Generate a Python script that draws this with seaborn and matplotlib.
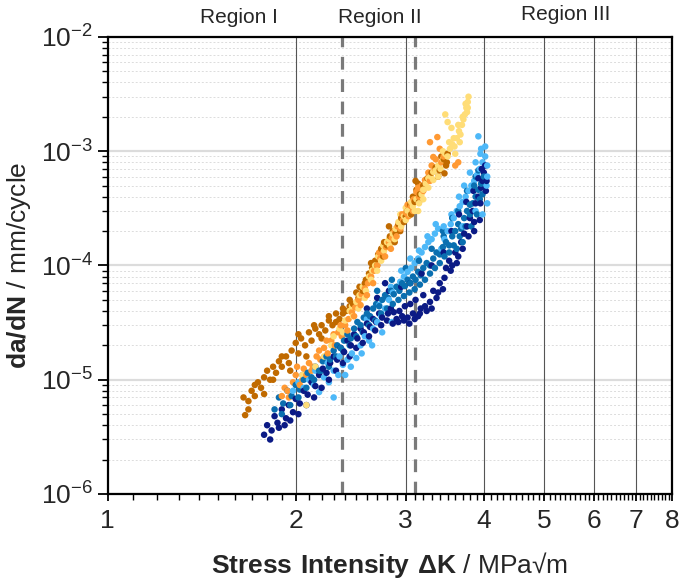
import numpy as np
import pandas as pd
import matplotlib
matplotlib.use("Agg")
import matplotlib.pyplot as plt
import matplotlib.ticker as mticker
import matplotlib.transforms as mtransforms
import seaborn as sns

# Data - dK in MPa*sqrt(m), da/dN in mm/cycle
gold_dk = [1.65, 1.66, 1.68, 1.70, 1.72, 1.74, 1.76, 1.78, 1.80, 1.82, 1.84, 1.86, 1.88, 1.90,
           1.93, 1.95, 1.97, 2.00, 2.02, 2.04, 2.07, 2.10, 2.12, 2.15, 2.18, 2.20, 2.23, 2.26,
           2.29, 2.32, 2.35, 2.38, 2.41, 2.44, 2.47, 2.50, 2.53, 2.56, 2.59, 2.62, 2.65, 2.68,
           2.71, 2.74, 2.77, 2.80, 2.83, 2.86, 2.89, 2.92, 2.95, 2.98, 3.02, 3.05, 3.08, 3.10,
           3.12, 3.14, 3.16, 3.20, 3.25, 3.30, 3.35, 3.40, 3.45, 3.48, 3.50,
           1.68, 1.72, 1.78, 1.84, 1.90, 1.96, 2.02, 2.08, 2.14, 2.20, 2.26, 2.32, 2.38, 2.44,
           2.52, 2.58, 2.64, 2.70, 2.76, 2.82, 2.88, 2.94, 3.00, 3.06, 3.11, 3.15, 3.38, 3.42,
           3.46, 3.49]
gold_rate = [7.0e-6, 4.9e-6, 6.5e-6, 8.0e-6, 7.2e-6, 9.5e-6, 8.5e-6, 1.05e-5, 1.2e-5, 1.0e-5,
             1.3e-5, 1.15e-5, 1.45e-5, 1.3e-5, 1.6e-5, 1.4e-5, 1.8e-5, 2.1e-5, 1.7e-5, 2.3e-5,
             2.0e-5, 2.6e-5, 2.2e-5, 2.8e-5, 2.5e-5, 3.0e-5, 2.7e-5, 3.3e-5, 3.0e-5, 3.8e-5,
             3.4e-5, 4.2e-5, 4.0e-5, 5.0e-5, 4.6e-5, 5.8e-5, 6.5e-5, 6.0e-5, 7.5e-5, 8.5e-5,
             9.5e-5, 1.1e-4, 1.25e-4, 1.4e-4, 1.6e-4, 1.5e-4, 1.8e-4, 2.0e-4, 1.9e-4, 2.3e-4,
             2.6e-4, 2.4e-4, 3.0e-4, 3.4e-4, 4.0e-4, 3.6e-4, 4.6e-4, 5.2e-4, 4.2e-4, 5.0e-4,
             5.8e-4, 6.5e-4, 7.2e-4, 6.8e-4, 8.5e-4, 7.5e-4, 9.5e-4,
             5.5e-6, 9.0e-6, 7.5e-6, 1.0e-5, 1.6e-5, 1.2e-5, 2.5e-5, 1.6e-5, 3.0e-5, 2.3e-5,
             3.6e-5, 3.2e-5, 3.8e-5, 4.4e-5, 5.2e-5, 7.0e-5, 1.05e-4, 1.0e-4, 1.2e-4, 2.2e-4,
             1.6e-4, 2.0e-4, 2.7e-4, 2.8e-4, 5.5e-4, 3.6e-4, 6.0e-4, 9.0e-4, 6.4e-4, 8.0e-4]

orange_dk = [1.90, 1.92, 1.95, 1.98, 2.00, 2.03, 2.06, 2.08, 2.10, 2.13, 2.16, 2.19, 2.22, 2.25,
             2.28, 2.31, 2.34, 2.37, 2.40, 2.43, 2.46, 2.49, 2.52, 2.55, 2.58, 2.61, 2.64, 2.67,
             2.70, 2.73, 2.76, 2.79, 2.82, 2.85, 2.88, 2.91, 2.94, 2.97, 3.00, 3.03, 3.06, 3.09,
             3.12, 3.15, 3.18, 3.22, 3.26, 3.30, 3.35, 3.40, 3.45, 3.28, 3.37, 3.60, 3.64, 3.32,
             1.94, 2.01, 2.05, 2.12, 2.18, 2.24, 2.30, 2.36, 2.42, 2.48, 2.54, 2.60, 2.66, 2.72,
             2.78, 2.84, 2.90, 2.96, 3.02, 3.08, 3.14, 3.20, 3.28, 3.34, 3.42]
orange_rate = [7.2e-6, 8.5e-6, 7.0e-6, 9.5e-6, 1.1e-5, 9.0e-6, 1.25e-5, 1.1e-5, 1.4e-5, 1.3e-5,
               1.6e-5, 1.5e-5, 1.9e-5, 1.7e-5, 2.2e-5, 2.0e-5, 2.6e-5, 2.4e-5, 3.0e-5, 3.4e-5,
               3.9e-5, 4.3e-5, 5.0e-5, 5.6e-5, 6.3e-5, 7.0e-5, 8.0e-5, 9.0e-5, 1.0e-4, 1.15e-4,
               1.3e-4, 1.45e-4, 1.6e-4, 1.75e-4, 2.0e-4, 2.2e-4, 2.1e-4, 2.5e-4, 2.9e-4, 2.7e-4,
               3.3e-4, 3.8e-4, 4.4e-4, 4.0e-4, 5.0e-4, 5.6e-4, 6.5e-4, 7.5e-4, 8.5e-4, 1.05e-3,
               9.0e-4, 1.2e-3, 1.33e-3, 7.5e-4, 8.0e-4, 8.9e-4,
               8.0e-6, 1.3e-5, 1.0e-5, 1.2e-5, 1.8e-5, 2.2e-5, 2.5e-5, 3.0e-5, 2.7e-5, 3.6e-5,
               4.5e-5, 5.5e-5, 7.0e-5, 1.3e-4, 1.2e-4, 1.4e-4, 1.8e-4, 2.8e-4, 3.4e-4, 3.0e-4,
               4.8e-4, 4.5e-4, 5.5e-4, 7.0e-4, 8.0e-4]

yellow_dk = [2.05, 2.08, 2.15, 2.22, 2.28, 2.35, 2.40, 2.44, 2.47, 2.50, 2.53, 2.56, 2.59, 2.62,
             2.65, 2.68, 2.71, 2.74, 2.77, 2.80, 2.83, 2.86, 2.89, 2.92, 2.95, 2.98, 3.00, 3.02,
             3.05, 3.08, 3.10, 3.12, 3.15, 3.18, 3.20, 3.23, 3.26, 3.29, 3.32, 3.35, 3.38, 3.41,
             3.44, 3.47, 3.50, 3.53, 3.56, 3.59, 3.62, 3.65, 3.67, 3.69, 3.71, 3.73, 3.75, 3.76,
             3.77, 3.78, 3.47, 3.50, 3.55,
             2.30, 2.38, 2.46, 2.52, 2.58, 2.64, 2.70, 2.76, 2.82, 2.88, 2.94, 3.00, 3.06, 3.14,
             3.20, 3.26, 3.32, 3.38, 3.44, 3.52, 3.58, 3.64, 3.70, 3.74, 3.77, 3.60, 3.66]
yellow_rate = [1.1e-5, 6.0e-6, 1.3e-5, 1.6e-5, 2.0e-5, 2.8e-5, 3.3e-5, 4.0e-5, 3.6e-5, 4.8e-5,
               5.5e-5, 6.5e-5, 6.0e-5, 8.0e-5, 9.0e-5, 1.0e-4, 1.2e-4, 1.1e-4, 1.35e-4, 1.6e-4,
               1.5e-4, 1.9e-4, 2.1e-4, 2.4e-4, 2.2e-4, 2.7e-4, 2.5e-4, 3.0e-4, 2.8e-4, 3.3e-4,
               3.0e-4, 3.8e-4, 3.5e-4, 4.2e-4, 4.6e-4, 5.2e-4, 4.8e-4, 6.0e-4, 5.6e-4, 6.8e-4,
               7.5e-4, 7.0e-4, 8.5e-4, 9.5e-4, 9.0e-4, 1.05e-3, 1.15e-3, 1.1e-3, 1.3e-3, 1.5e-3,
               1.4e-3, 1.7e-3, 1.9e-3, 2.1e-3, 2.4e-3, 2.2e-3, 2.7e-3, 3.0e-3, 2.1e-3, 1.8e-3,
               1.6e-3,
               2.4e-5, 2.6e-5, 4.4e-5, 4.2e-5, 5.2e-5, 7.5e-5, 9.0e-5, 1.5e-4, 1.7e-4, 1.7e-4,
               2.8e-4, 3.2e-4, 3.6e-4, 3.0e-4, 3.8e-4, 5.8e-4, 6.6e-4, 6.0e-4, 1.0e-3, 1.2e-3,
               1.3e-3, 1.7e-3, 2.0e-3, 2.6e-3, 2.4e-3, 9.5e-4, 1.2e-3]

navy_dk = [1.78, 1.80, 1.83, 1.85, 1.87, 1.90, 1.93, 1.95, 1.98, 2.00, 2.03, 2.06, 2.09, 2.12,
           2.15, 2.18, 2.21, 2.24, 2.27, 2.30, 2.33, 2.36, 2.39, 2.42, 2.45, 2.48, 2.51, 2.54,
           2.57, 2.60, 2.63, 2.66, 2.69, 2.72, 2.75, 2.78, 2.81, 2.84, 2.87, 2.90, 2.93, 2.96,
           2.99, 3.02, 3.05, 3.08, 3.11, 3.14, 3.17, 3.20, 3.24, 3.28, 3.32, 3.36, 3.40, 3.44,
           3.48, 3.52, 3.56, 3.60, 3.64, 3.68, 3.72, 3.76, 3.80, 3.84, 3.88, 3.92, 3.96, 3.98,
           4.00, 4.02, 3.94, 3.86,
           1.82, 1.88, 1.92, 1.96, 2.02, 2.08, 2.14, 2.20, 2.26, 2.32, 2.38, 2.44, 2.50, 2.56,
           2.62, 2.68, 2.74, 2.80, 2.86, 2.92, 2.98, 3.04, 3.10, 3.16, 3.22, 3.30, 3.38, 3.46,
           3.54, 3.62, 3.70, 3.78, 3.86, 3.95, 4.03, 4.04,
           2.60, 2.70, 2.82, 2.95, 3.05, 3.18, 3.30, 3.45, 3.55, 3.65, 3.75, 3.85, 3.92, 3.97]
navy_rate = [3.3e-6, 4.0e-6, 3.6e-6, 4.8e-6, 4.2e-6, 5.5e-6, 4.6e-6, 6.0e-6, 5.2e-6, 6.8e-6,
             6.2e-6, 8.0e-6, 7.4e-6, 9.5e-6, 8.8e-6, 1.1e-5, 1.25e-5, 1.15e-5, 1.4e-5, 1.6e-5,
             1.5e-5, 1.9e-5, 1.75e-5, 2.2e-5, 2.0e-5, 2.5e-5, 2.3e-5, 2.8e-5, 2.6e-5, 3.1e-5,
             2.9e-5, 3.4e-5, 3.2e-5, 3.8e-5, 3.5e-5, 7.0e-5, 3.8e-5, 4.2e-5, 3.9e-5, 3.4e-5,
             4.0e-5, 3.6e-5, 4.4e-5, 3.5e-5, 4.6e-5, 3.8e-5, 5.0e-5, 3.6e-5, 4.2e-5, 5.5e-5,
             4.0e-5, 4.8e-5, 6.0e-5, 5.2e-5, 7.0e-5, 6.2e-5, 9.5e-5, 1.1e-4, 1.0e-4, 1.3e-4,
             1.2e-4, 1.6e-4, 1.9e-4, 2.2e-4, 2.6e-4, 3.0e-4, 3.5e-4, 4.0e-4, 4.8e-4, 5.5e-4,
             6.5e-4, 7.5e-4, 2.5e-4, 2.0e-4,
             3.0e-6, 3.8e-6, 4.0e-6, 4.4e-6, 5.0e-6, 6.0e-6, 7.0e-6, 8.5e-6, 1.0e-5, 1.2e-5,
             1.4e-5, 1.6e-5, 1.9e-5, 2.1e-5, 2.4e-5, 2.7e-5, 3.0e-5, 3.3e-5, 3.1e-5, 3.2e-5,
             3.3e-5, 3.1e-5, 3.4e-5, 3.8e-5, 4.4e-5, 4.2e-5, 5.8e-5, 7.8e-5, 9.0e-5, 1.05e-4,
             1.4e-4, 1.8e-4, 2.4e-4, 3.5e-4, 4.5e-4, 5.5e-4,
             4.2e-5, 5.2e-5, 6.0e-5, 6.5e-5, 7.0e-5, 8.5e-5, 1.0e-4, 1.3e-4, 2.0e-4, 2.8e-4,
             3.6e-4, 4.5e-4, 5.8e-4, 7.0e-4]

mid_dk = [1.85, 1.88, 1.91, 1.94, 1.97, 2.00, 2.03, 2.06, 2.09, 2.12, 2.15, 2.18, 2.21, 2.24,
          2.27, 2.30, 2.33, 2.36, 2.39, 2.42, 2.45, 2.48, 2.51, 2.54, 2.57, 2.60, 2.63, 2.66,
          2.69, 2.72, 2.75, 2.78, 2.81, 2.84, 2.87, 2.90, 2.93, 2.96, 2.99, 3.02, 3.05, 3.08,
          3.11, 3.14, 3.17, 3.20, 3.24, 3.28, 3.32, 3.36, 3.40, 3.44, 3.48, 3.52, 3.56, 3.60,
          3.64, 3.68, 3.72, 3.76, 3.80, 3.84, 3.88, 3.92, 3.96, 4.00, 3.90, 3.82, 3.70, 3.62,
          3.44, 3.56, 3.64, 3.76, 3.88, 3.92,
          1.90, 1.96, 2.02, 2.08, 2.14, 2.20, 2.26, 2.32, 2.38, 2.44, 2.50, 2.56, 2.62, 2.68,
          2.74, 2.80, 2.86, 2.92, 2.98, 3.04, 3.10, 3.16, 3.22, 3.28, 3.34, 3.40, 3.46, 3.52,
          3.58, 3.66, 3.74, 3.80, 3.86, 3.94, 3.98, 2.70, 2.85, 3.00, 3.15, 3.30, 3.45]
mid_rate = [5.5e-6, 7.0e-6, 6.2e-6, 8.0e-6, 7.2e-6, 9.0e-6, 8.2e-6, 1.0e-5, 1.15e-5, 1.05e-5,
            1.3e-5, 1.2e-5, 1.45e-5, 1.6e-5, 1.5e-5, 1.8e-5, 2.0e-5, 1.9e-5, 2.2e-5, 2.5e-5,
            2.3e-5, 2.8e-5, 3.2e-5, 3.0e-5, 3.5e-5, 3.8e-5, 3.6e-5, 4.2e-5, 4.6e-5, 4.4e-5,
            5.0e-5, 5.5e-5, 5.2e-5, 6.0e-5, 5.6e-5, 6.5e-5, 6.0e-5, 7.0e-5, 6.6e-5, 7.5e-5,
            7.0e-5, 8.0e-5, 7.5e-5, 8.8e-5, 8.2e-5, 9.5e-5, 1.05e-4, 1.0e-4, 1.15e-4, 1.3e-4,
            1.25e-4, 1.45e-4, 1.6e-4, 1.5e-4, 1.8e-4, 2.0e-4, 2.3e-4, 2.1e-4, 2.6e-4, 3.0e-4,
            2.8e-4, 3.5e-4, 4.0e-4, 4.6e-4, 5.2e-4, 6.0e-4, 2.8e-4, 2.2e-4, 1.6e-4, 1.4e-4,
            2.0e-4, 2.6e-4, 3.0e-4, 4.5e-4, 6.0e-4, 6.8e-4,
            5.0e-6, 6.0e-6, 7.0e-6, 8.5e-6, 1.0e-5, 1.2e-5, 1.3e-5, 1.6e-5, 1.8e-5, 2.0e-5,
            2.4e-5, 2.6e-5, 3.0e-5, 3.3e-5, 3.8e-5, 4.2e-5, 4.6e-5, 5.0e-5, 5.4e-5, 5.8e-5,
            6.2e-5, 6.8e-5, 7.5e-5, 8.5e-5, 9.5e-5, 1.05e-4, 1.2e-4, 1.3e-4, 1.5e-4, 1.8e-4,
            2.2e-4, 3.4e-4, 5.0e-4, 3.8e-4, 4.2e-4, 6.0e-5, 7.5e-5, 9.5e-5, 1.1e-4, 1.4e-4,
            1.8e-4]

light_dk = [1.98, 2.02, 2.06, 2.10, 2.14, 2.18, 2.22, 2.26, 2.30, 2.34, 2.38, 2.42, 2.46, 2.50,
            2.54, 2.58, 2.62, 2.66, 2.70, 2.74, 2.78, 2.82, 2.86, 2.90, 2.94, 2.98, 3.02, 3.06,
            3.10, 3.14, 3.18, 3.22, 3.26, 3.30, 3.34, 3.38, 3.42, 3.46, 3.50, 3.54, 3.58, 3.62,
            3.66, 3.70, 3.74, 3.78, 3.82, 3.86, 3.90, 3.94, 3.98, 4.02, 4.05, 4.04, 3.96, 3.92,
            3.88, 2.30,
            2.05, 2.15, 2.25, 2.35, 2.45, 2.55, 2.65, 2.75, 2.85, 2.40, 2.60, 2.72, 2.84, 2.95,
            3.05, 3.15, 3.25, 3.35, 3.45, 3.55, 3.65, 3.72, 3.80, 3.88, 3.95, 4.02, 4.05, 4.05,
            3.98, 3.70]
light_rate = [8.0e-6, 9.5e-6, 8.5e-6, 1.0e-5, 9.0e-6, 7.8e-6, 1.05e-5, 9.5e-6, 1.2e-5, 1.1e-5,
              1.35e-5, 1.5e-5, 1.7e-5, 1.55e-5, 2.0e-5, 2.4e-5, 2.2e-5, 2.8e-5, 3.2e-5, 3.6e-5,
              4.2e-5, 5.0e-5, 5.8e-5, 6.5e-5, 7.2e-5, 8.0e-5, 8.8e-5, 9.5e-5, 1.05e-4, 1.15e-4,
              1.3e-4, 1.45e-4, 1.6e-4, 1.7e-4, 1.9e-4, 2.1e-4, 1.4e-4, 1.7e-4, 2.0e-4, 2.3e-4,
              2.6e-4, 3.0e-4, 3.3e-4, 3.6e-4, 4.0e-4, 4.5e-4, 5.0e-4, 5.5e-4, 6.2e-4, 7.0e-4,
              8.0e-4, 9.0e-4, 7.5e-4, 5.0e-4, 1.05e-3, 1.35e-3, 3.0e-4, 7.0e-6,
              1.1e-5, 1.2e-5, 1.4e-5, 1.6e-5, 1.3e-5, 1.7e-5, 2.0e-5, 2.6e-5, 3.2e-5, 1.1e-5,
              3.4e-5, 4.5e-5, 6.5e-5, 9.0e-5, 1.15e-4, 1.35e-4, 1.8e-4, 2.3e-4, 2.2e-4, 2.8e-4,
              4.0e-4, 5.0e-4, 6.5e-4, 8.0e-4, 9.5e-4, 1.1e-3, 6.0e-4, 3.5e-4, 2.8e-4, 2.2e-4]

region_names = ["Region I", "Region II", "Region III"]
region_pos = [1.62, 2.73, 5.40]
boundaries = [2.37, 3.10]
grid_dk = [2, 3, 4, 5, 6, 7]

palette = {
    "light": "#4db8f8",
    "navy": "#0b1a85",
    "mid": "#0a6fb0",
    "orange": "#ff9933",
    "yellow": "#ffdd77",
    "gold": "#c06a00",
}

# one long table; sorted by dK so the series interleave when drawn
frames = []
for name, dk, rate in [("light", light_dk, light_rate), ("navy", navy_dk, navy_rate),
                       ("mid", mid_dk, mid_rate), ("gold", gold_dk, gold_rate),
                       ("orange", orange_dk, orange_rate), ("yellow", yellow_dk, yellow_rate)]:
    frames.append(pd.DataFrame({"dK": dk, "rate": rate, "series": name}))
df = pd.concat(frames, ignore_index=True)
df = df.sort_values("dK", kind="stable").reset_index(drop=True)

sns.set_style("white")
plt.rcParams["font.family"] = ["Liberation Sans", "DejaVu Sans"]
plt.rcParams["mathtext.fontset"] = "custom"
plt.rcParams["mathtext.rm"] = "Liberation Sans"
plt.rcParams["mathtext.bf"] = "Liberation Sans:bold"

fig = plt.figure(figsize=(6.88, 5.86), dpi=100)
ax = fig.add_axes([0.1564, 0.157, 0.8203, 0.7799])

ax.set_xscale("log")
ax.set_yscale("log")
ax.set_xlim(1, 8)
ax.set_ylim(1e-6, 1e-2)

# horizontal grid
ax.yaxis.set_minor_locator(mticker.LogLocator(base=10, subs=np.arange(2, 10)))
ax.grid(True, which="major", axis="y", color="#dcdcdc", lw=1.6, zorder=0)
ax.grid(True, which="minor", axis="y", color="#dcdcdc", lw=0.7, ls=(0, (2, 2)), zorder=0)

for v in grid_dk:
    ax.axvline(v, color="#555555", lw=0.8, zorder=1)
for v in boundaries:
    ax.axvline(v, color="#7a7a7a", lw=2.3, ls=(0, (4, 3)), zorder=1)

sns.scatterplot(data=df, x="dK", y="rate", hue="series", palette=palette,
                s=22, linewidth=0, legend=False, ax=ax, zorder=3)

# ticks
ax.xaxis.set_major_locator(mticker.FixedLocator([1, 2, 3, 4, 5, 6, 7, 8]))
ax.xaxis.set_major_formatter(mticker.FixedFormatter(["1", "2", "3", "4", "5", "6", "7", "8"]))
ax.xaxis.set_minor_locator(mticker.FixedLocator(np.round(np.arange(1.1, 8.0, 0.1), 1)))
ax.xaxis.set_minor_formatter(mticker.NullFormatter())
ax.yaxis.set_major_locator(mticker.LogLocator(base=10, numticks=10))
ax.tick_params(axis="both", which="major", direction="out", length=7, width=1.3,
               labelsize=19, color="black", bottom=True, left=True, top=False, right=False)
ax.tick_params(axis="both", which="minor", direction="out", length=4, width=1.0,
               color="black", bottom=True, left=True, top=False, right=False)
ax.tick_params(axis="x", which="major", length=5, pad=6)

for sp in ax.spines.values():
    sp.set_color("black")
    sp.set_linewidth(1.6)

ax.set_xlabel(r"$\mathbf{Stress\ Intensity\ \Delta K}$ / MPa√m", fontsize=19, labelpad=12)
ax.set_ylabel(r"$\mathbf{da/dN}$ / mm/cycle", fontsize=19, labelpad=6)

trans = mtransforms.blended_transform_factory(ax.transData, ax.transAxes)
for name, pos, yy in zip(region_names, region_pos, [1.042, 1.042, 1.05]):
    ax.text(pos, yy, name, transform=trans, ha="center", va="center", fontsize=15)

fig.savefig("out.png", dpi=100)
